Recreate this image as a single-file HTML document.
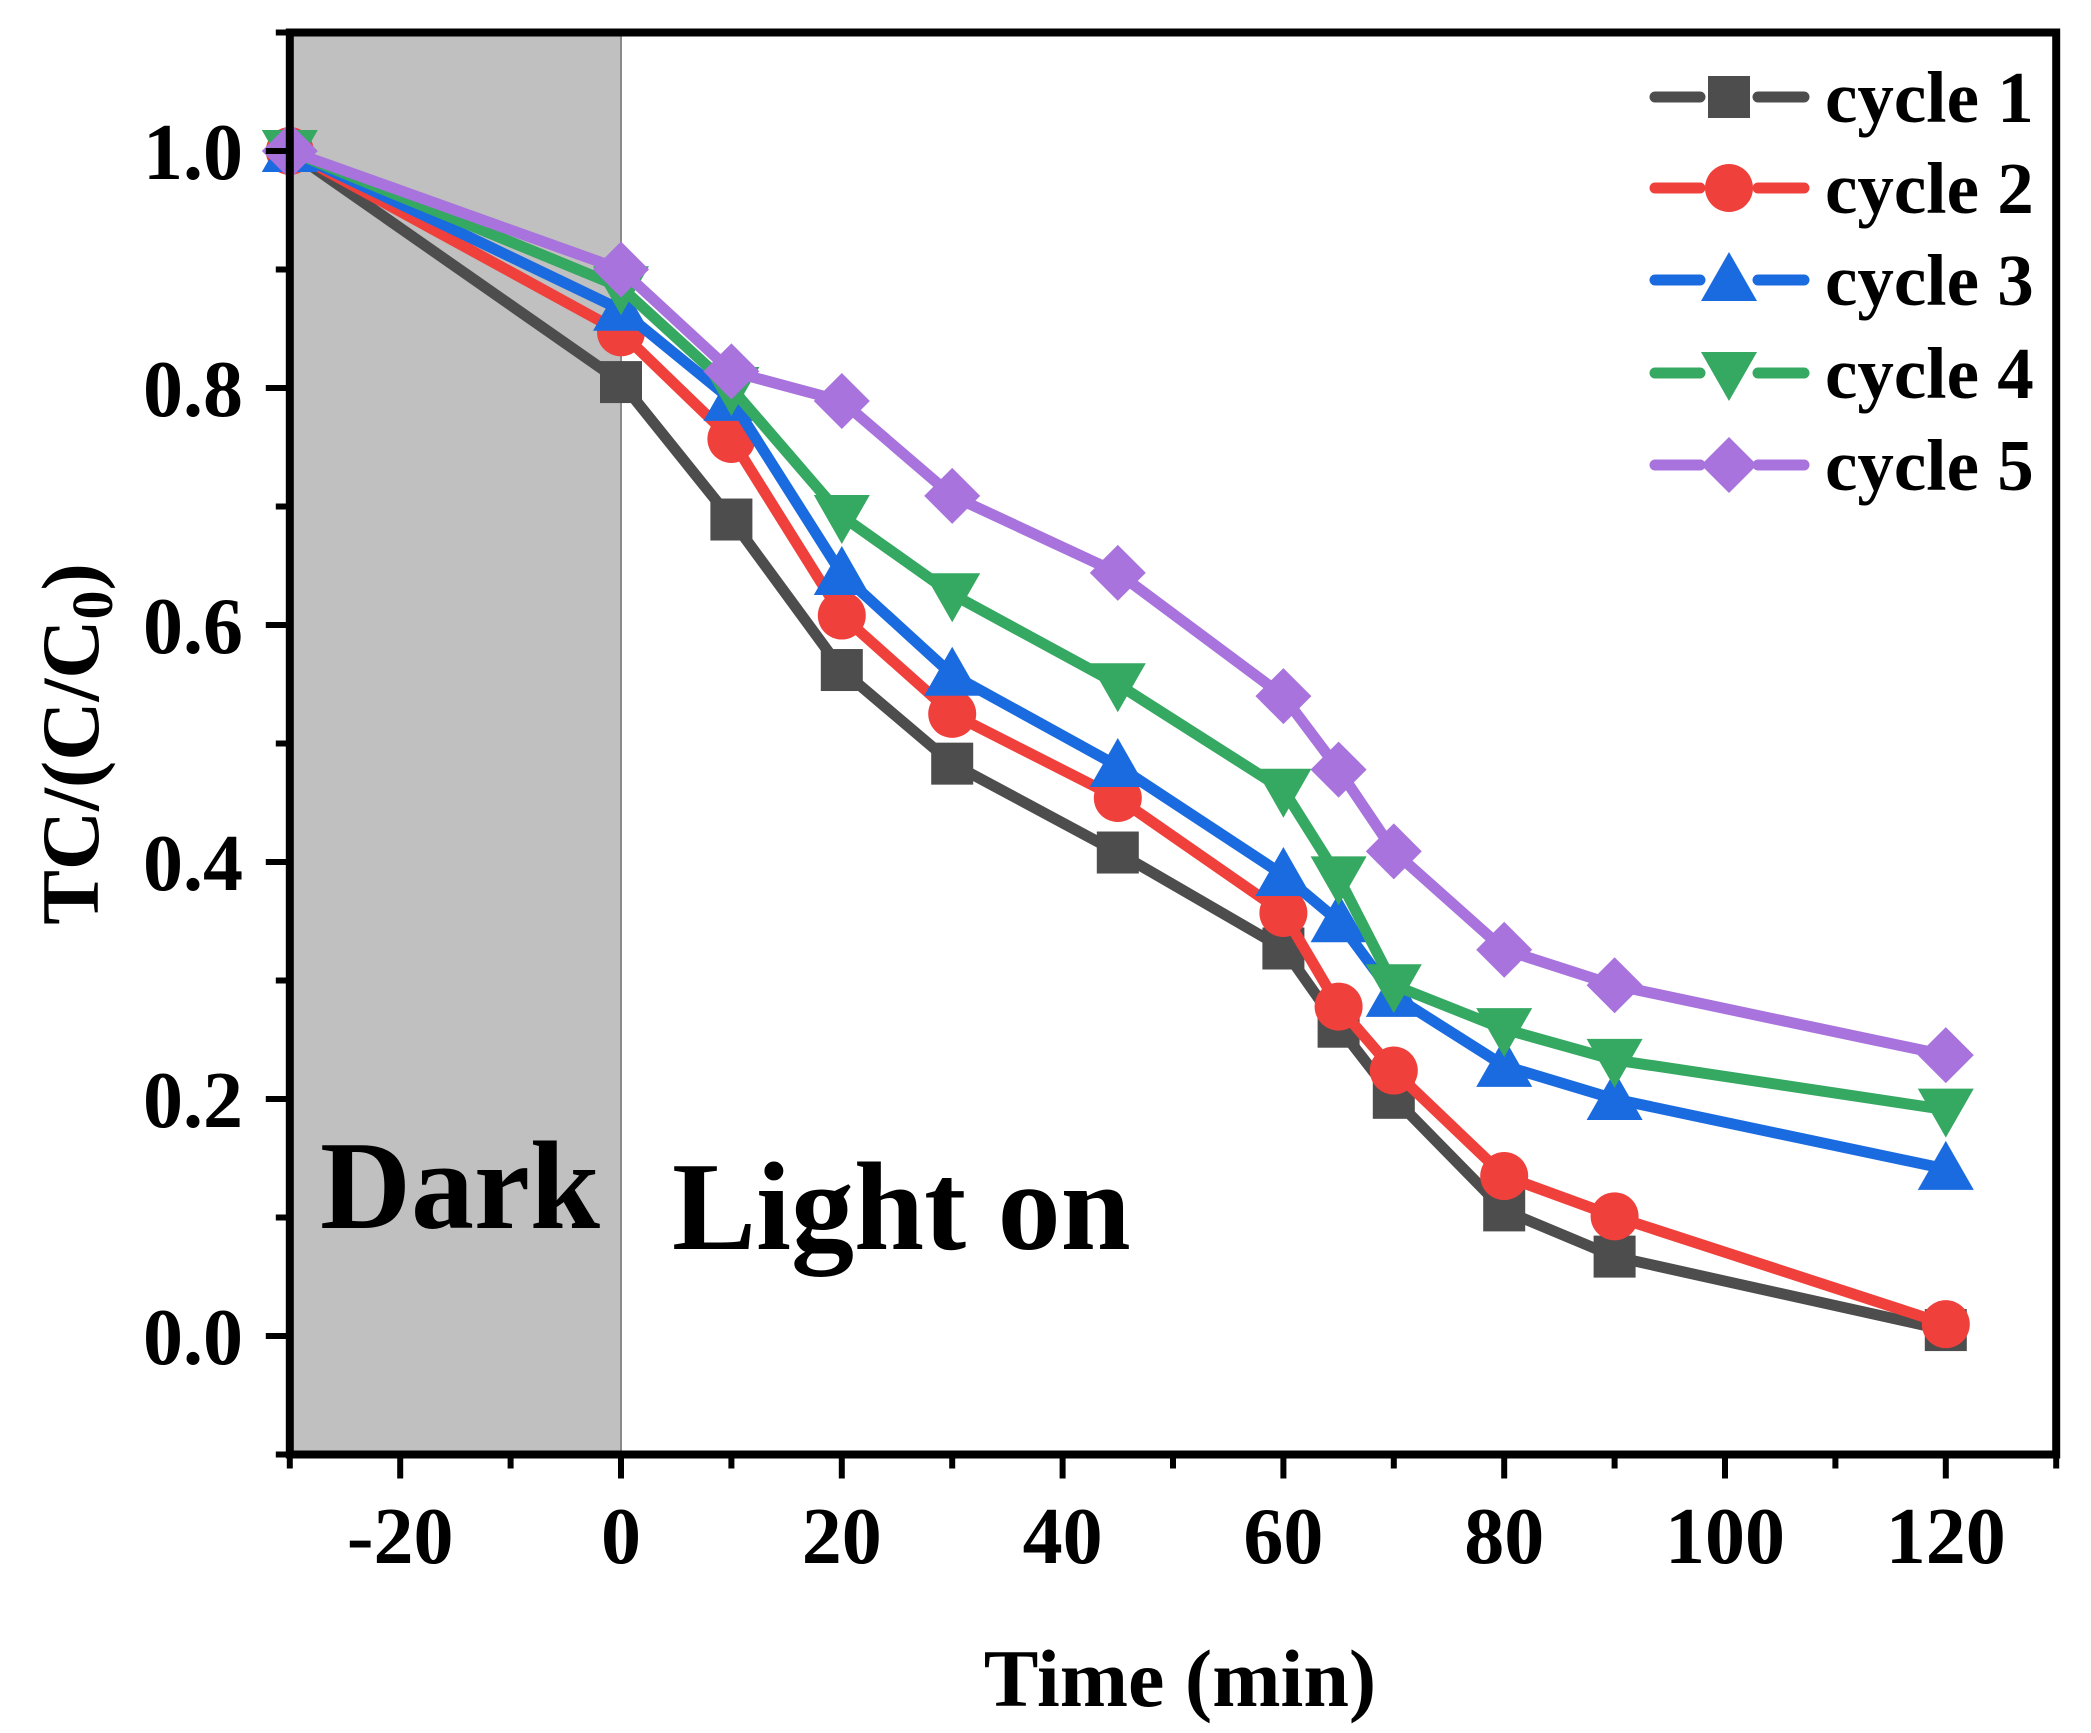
<!DOCTYPE html>
<html><head><meta charset="utf-8"><style>
html,body{margin:0;padding:0;background:#fff;}
svg{display:block;font-family:"Liberation Serif",serif;font-weight:bold;}
</style></head><body>
<svg id="chart" width="2091" height="1733" viewBox="0 0 2091 1733" xmlns="http://www.w3.org/2000/svg">
<g id="plot"></g>
</svg>
<script>
const xValues = [-30, 0, 10, 20, 30, 45, 60, 65, 70, 80, 90, 120];
const cycle1 = [1.0, 0.805, 0.689, 0.562, 0.483, 0.408, 0.327, 0.261, 0.201, 0.106, 0.067, 0.005];
const cycle2 = [1.0, 0.847, 0.757, 0.608, 0.525, 0.454, 0.357, 0.278, 0.224, 0.135, 0.101, 0.010];
const cycle3 = [1.0, 0.866, 0.790, 0.643, 0.558, 0.481, 0.389, 0.350, 0.287, 0.228, 0.200, 0.141];
const cycle4 = [1.0, 0.885, 0.800, 0.692, 0.626, 0.550, 0.461, 0.387, 0.296, 0.259, 0.233, 0.191];
const cycle5 = [1.0, 0.900, 0.814, 0.789, 0.709, 0.644, 0.540, 0.478, 0.409, 0.326, 0.296, 0.237];
const seriesNames = ["cycle 1", "cycle 2", "cycle 3", "cycle 4", "cycle 5"];
const xTickLabels = ["-20", "0", "20", "40", "60", "80", "100", "120"];
const yTickLabels = ["0.0", "0.2", "0.4", "0.6", "0.8", "1.0"];

const NS = "http://www.w3.org/2000/svg";
const X0 = 621, XS = 11.04;
const Y0 = 1336, YS = 1185;
const sx = v => X0 + v * XS;
const sy = v => Y0 - v * YS;
const L = sx(-30), R = sx(130), T = sy(1.1), B = sy(-0.1);
const svg = document.getElementById('plot');
function mk(tag, attrs, parent) {
  const e = document.createElementNS(NS, tag);
  for (const k in attrs) e.setAttribute(k, attrs[k]);
  (parent || svg).appendChild(e);
  return e;
}

const dark = mk('rect', {x: L, y: T, width: sx(0) - L, height: B - T, fill: '#c0c0c0', stroke: '#8a8a8a', 'stroke-width': 2});



const tDark = mk('text', {x: 320, y: 1228, 'font-size': 126, fill: '#000'});
tDark.textContent = 'Dark';


const tLight = mk('text', {x: 672, y: 1249, 'font-size': 126, fill: '#000'});
tLight.textContent = 'Light on';



const colors = ['#4d4d4d', '#f0403c', '#1a6be0', '#35a862', '#a873dc'];
const shapes = ['square', 'circle', 'up', 'down', 'diamond'];
const allSeries = [cycle1, cycle2, cycle3, cycle4, cycle5];

function marker(shape, cx, cy, color, parent) {
  let e;
  if (shape === 'square') e = mk('rect', {x: cx - 21, y: cy - 21, width: 42, height: 42, fill: color}, parent);
  else if (shape === 'circle') e = mk('circle', {cx: cx, cy: cy, r: 24, fill: color}, parent);
  else if (shape === 'up') e = mk('polygon', {points: `${cx},${cy-28} ${cx+28},${cy+21} ${cx-28},${cy+21}`, fill: color}, parent);
  else if (shape === 'down') e = mk('polygon', {points: `${cx-28},${cy-21} ${cx+28},${cy-21} ${cx},${cy+28}`, fill: color}, parent);
  else e = mk('polygon', {points: `${cx},${cy-28} ${cx+28},${cy} ${cx},${cy+28} ${cx-28},${cy}`, fill: color}, parent);
  return e;
}

allSeries.forEach((s, i) => {
  const g = mk('g', {});
  
  
  const pts = s.map((v, j) => sx(xValues[j]) + ',' + sy(v)).join(' ');
  const line = mk('polyline', {points: pts, fill: 'none', stroke: colors[i], 'stroke-width': 11, 'stroke-linejoin': 'round'}, g);
  
  
  s.forEach((v, j) => {
    const m = marker(shapes[i], sx(xValues[j]), sy(v), colors[i], g);
    
    
  });
});

const frame = mk('rect', {x: L, y: T, width: R - L, height: B - T, fill: 'none', stroke: '#000', 'stroke-width': 8});



for (let v = -30; v <= 130; v += 10) {
  const major = v % 20 === 0;
  const t = mk('line', {x1: sx(v), x2: sx(v), y1: B, y2: B + (major ? 24 : 14), stroke: '#000', 'stroke-width': 6});
  
  
}
xTickLabels.forEach(lbl => {
  const t = mk('text', {x: sx(parseFloat(lbl)), y: 1563, 'font-size': 80, 'text-anchor': 'middle'});
  t.textContent = lbl;
  
  
});
for (let k = -1; k <= 11; k++) {
  const v = k / 10, major = k % 2 === 0;
  const t = mk('line', {x1: L, x2: L - (major ? 24 : 14), y1: sy(v), y2: sy(v), stroke: '#000', 'stroke-width': 6});
  
  
}
yTickLabels.forEach(lbl => {
  const t = mk('text', {x: 243, y: sy(parseFloat(lbl)) + 28, 'font-size': 80, 'text-anchor': 'end'});
  t.textContent = lbl;
  
  
});

const xt = mk('text', {x: 1180, y: 1706, 'font-size': 82, 'text-anchor': 'middle'});
xt.textContent = 'Time (min)';


const yt = mk('text', {x: 0, y: 0, 'font-size': 82, 'text-anchor': 'middle', transform: 'translate(98,744) rotate(-90)'});
yt.innerHTML = 'TC/(C/C<tspan font-size="58" dy="14">0</tspan><tspan dy="-14">)</tspan>';



const legendY = [97, 188, 280, 373, 465];
const lg = mk('g', {});


seriesNames.forEach((n, i) => {
  const g = mk('g', {}, lg);
  
  
  const y = legendY[i];
  mk('line', {x1: 1655, x2: 1700, y1: y, y2: y, stroke: colors[i], 'stroke-width': 11, 'stroke-linecap': 'round'}, g);
  mk('line', {x1: 1758, x2: 1804, y1: y, y2: y, stroke: colors[i], 'stroke-width': 11, 'stroke-linecap': 'round'}, g);
  marker(shapes[i], 1729, y, colors[i], g);
  const t = mk('text', {x: 1825, y: y + 25, 'font-size': 73}, g);
  t.textContent = n;
});
</script>
</body></html>
